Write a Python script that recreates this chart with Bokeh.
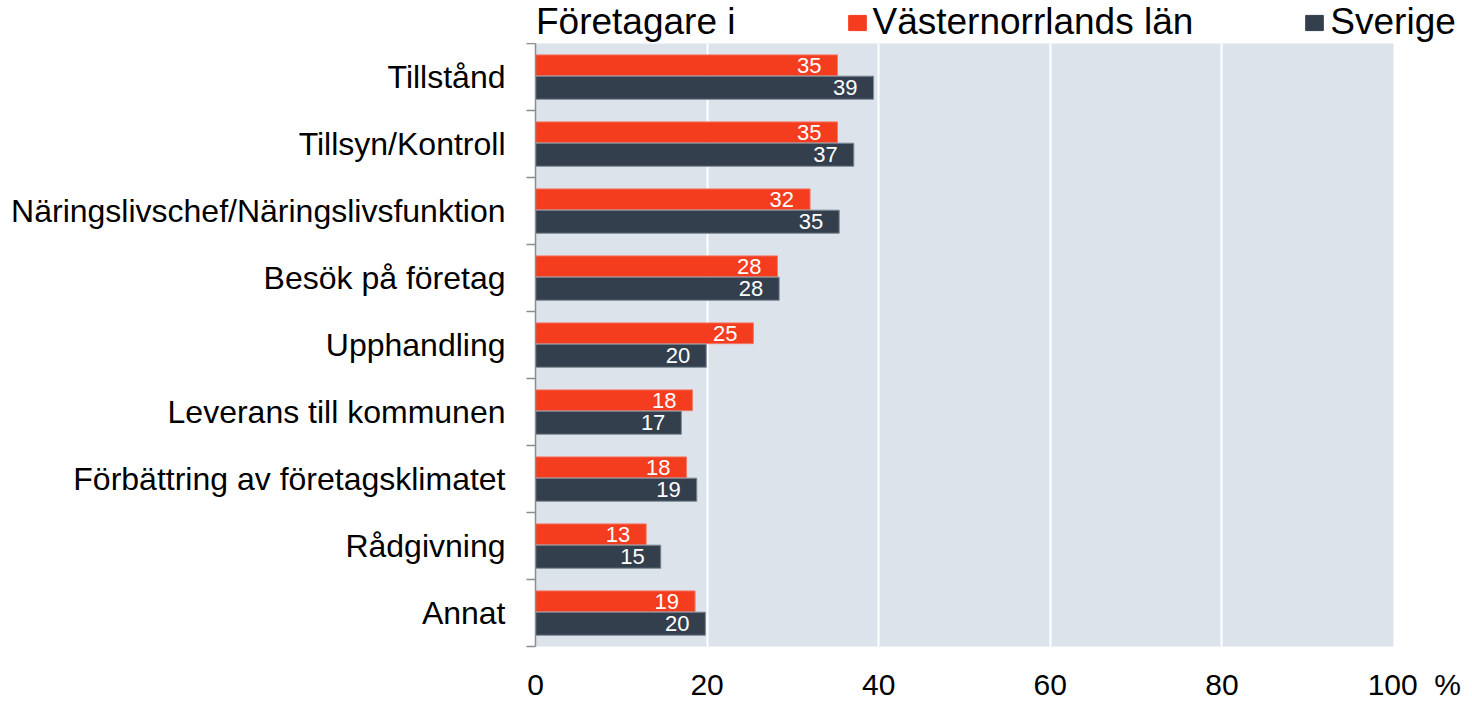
import numpy as np
from bokeh.plotting import figure
from bokeh.layouts import column
from bokeh.models import (ColumnDataSource, Range1d, FixedTicker, Legend,
                          LegendItem)
from bokeh.transform import dodge
from bokeh.core.properties import value
from bokeh.embed import file_html
from bokeh.resources import INLINE

# ---------------- data ----------------
categories = [
    "Tillstånd",
    "Tillsyn/Kontroll",
    "Näringslivschef/Näringslivsfunktion",
    "Besök på företag",
    "Upphandling",
    "Leverans till kommunen",
    "Förbättring av företagsklimatet",
    "Rådgivning",
    "Annat",
]
vasternorrland = [35.2, 35.2, 32.0, 28.2, 25.4, 18.3, 17.6, 12.9, 18.6]
sverige = [39.4, 37.1, 35.4, 28.4, 19.9, 17.0, 18.8, 14.6, 19.8]
series_names = ["Västernorrlands län", "Sverige"]
x_ticks = [0, 20, 40, 60, 80, 100]
unit_label = "%"
legend_title = "Företagare i"

# ---------------- styles ----------------
FONT = "Liberation Sans"
RED = "#F43C1F"
DARK = "#333F4D"
BG = "#DDE3EB"
RED_EDGE = "#F47A66"
DARK_EDGE = "#7F8A96"
NB = "\u00a0"

n = len(categories)
pos = np.arange(n) + 0.5
src = ColumnDataSource(dict(
    pos=pos,
    v1=vasternorrland,
    v2=sverige,
    l1=[str(int(round(v))) for v in vasternorrland],
    l2=[str(int(round(v))) for v in sverige],
))

# ---------------- main chart ----------------
p = figure(width=1472, height=660,
           x_range=Range1d(0, 100), y_range=Range1d(n, 0),
           output_backend="svg", toolbar_location=None,
           min_border_left=535, min_border_right=79,
           min_border_top=0, min_border_bottom=51,
           background_fill_color=BG, border_fill_color=None,
           outline_line_color=None)
p.title.visible = False

off1, off2 = -0.175, 0.16
p.hbar(y=dodge("pos", off1, range=p.y_range), right="v1", left=0,
       height=0.31, source=src, fill_color=RED,
       line_color=RED_EDGE, line_width=1)
p.hbar(y=dodge("pos", off2, range=p.y_range), right="v2", left=0,
       height=0.345, source=src, fill_color=DARK,
       line_color=DARK_EDGE, line_width=1)

p.text(x="v1", y=dodge("pos", off1, range=p.y_range), text="l1",
       source=src, text_align="right", text_baseline="middle",
       x_offset=-16, text_color="white", text_font_size="22px",
       text_font=value(FONT))
p.text(x="v2", y=dodge("pos", off2, range=p.y_range), text="l2",
       source=src, text_align="right", text_baseline="middle",
       x_offset=-16, text_color="white", text_font_size="22px",
       text_font=value(FONT))

# y axis: labels at category centres, tick marks at boundaries
ya = p.yaxis[0]
ya.ticker = FixedTicker(ticks=list(pos), minor_ticks=list(np.arange(n + 1)))
ya.major_label_overrides = {float(y): c for y, c in zip(pos, categories)}
ya.axis_line_color = "#8C8C8C"
ya.axis_line_width = 1.5
ya.major_tick_in = 0
ya.major_tick_out = 0
ya.minor_tick_in = 0
ya.minor_tick_out = 9
ya.minor_tick_line_color = "#8C8C8C"
ya.minor_tick_line_width = 1.5
ya.major_label_standoff = 21
ya.major_label_text_font = FONT
ya.major_label_text_font_size = "32px"
ya.major_label_text_color = "black"

xa = p.xaxis[0]
xa.ticker = FixedTicker(ticks=x_ticks)
xa.major_label_overrides = {x_ticks[-1]: NB * 5 + str(x_ticks[-1]) + NB * 2 + unit_label}
xa.axis_line_color = None
xa.major_tick_line_color = None
xa.minor_tick_line_color = None
xa.major_label_standoff = 15
xa.major_label_text_font = FONT
xa.major_label_text_font_size = "30px"
xa.major_label_text_color = "black"

p.ygrid.visible = False
p.xgrid.ticker = FixedTicker(ticks=x_ticks[1:-1])
p.xgrid.grid_line_color = "white"
p.xgrid.grid_line_width = 2

# ---------------- legend strip above the chart ----------------
top = figure(width=1472, height=43, x_range=Range1d(0, 1), y_range=Range1d(0, 1),
             output_backend="svg", toolbar_location=None,
             x_axis_location=None, y_axis_location=None,
             min_border_left=509, min_border_right=0,
             min_border_top=0, min_border_bottom=0,
             background_fill_color=None, border_fill_color=None,
             outline_line_color=None)
top.frame_align = False
top.title.visible = False
top.grid.visible = False
# legend-only renderers: one row each, placed outside the strip's visible range
key_src = ColumnDataSource(dict(y=[-5.0], right=[1.0]))
g0 = top.hbar(y="y", right="right", left=0, height=0.3, source=key_src,
              fill_alpha=0, line_alpha=0)
g1 = top.hbar(y="y", right="right", left=0, height=0.3, source=key_src,
              fill_color=RED, line_color=RED)
g2 = top.hbar(y="y", right="right", left=0, height=0.3, source=key_src,
              fill_color=DARK, line_color=DARK)

legend = Legend(items=[LegendItem(label=legend_title, renderers=[g0]),
                       LegendItem(label=series_names[0], renderers=[g1]),
                       LegendItem(label=series_names[1], renderers=[g2])],
                orientation="horizontal", location="bottom_left",
                label_text_font=FONT, label_text_font_size="37px",
                label_text_color="black",
                glyph_width=22, glyph_height=19, label_standoff=5,
                spacing=110, padding=0, margin=0,
                border_line_color=None, background_fill_alpha=0)
top.add_layout(legend, "center")

layout = column(top, p, spacing=0)
open("out.html", "w").write(file_html(layout, INLINE))
